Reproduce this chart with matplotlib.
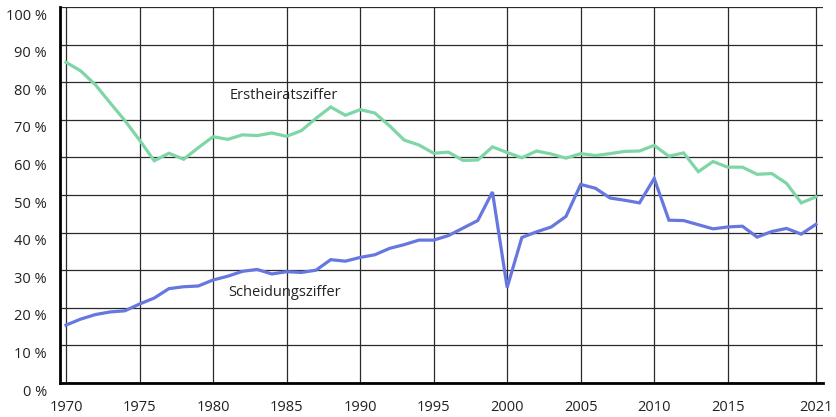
import numpy as np
import matplotlib
matplotlib.use("Agg")
from matplotlib import pyplot as plt
from matplotlib.transforms import ScaledTranslation

plt.rcParams["font.family"] = ["Open Sans", "DejaVu Sans"]

years = np.arange(1970, 2022)

# Erstheiratsziffer (%)
erstheirat = [85.3, 83.0, 79.3, 74.5, 69.8, 64.6, 59.1, 61.1, 59.5, 62.6,
              65.5, 64.8, 66.0, 65.8, 66.5, 65.6, 67.1, 70.4, 73.4, 71.2,
              72.7, 71.8, 68.4, 64.6, 63.3, 61.1, 61.4, 59.2, 59.3, 62.8,
              61.3, 59.9, 61.7, 60.9, 59.8, 61.0, 60.5, 61.0, 61.6, 61.7,
              63.2, 60.3, 61.2, 56.2, 58.9, 57.4, 57.4, 55.5, 55.7, 53.1,
              47.9, 49.5]

# Scheidungsziffer (%)
scheidung = [15.4, 17.0, 18.2, 18.9, 19.2, 21.0, 22.6, 25.1, 25.6, 25.8,
             27.4, 28.4, 29.7, 30.2, 29.0, 29.6, 29.4, 30.0, 32.8, 32.4,
             33.4, 34.1, 35.8, 36.8, 38.0, 38.0, 39.2, 41.2, 43.2, 50.8,
             25.4, 38.7, 40.2, 41.5, 44.3, 52.8, 51.8, 49.2, 48.6, 47.9,
             54.4, 43.3, 43.2, 42.1, 41.0, 41.5, 41.7, 38.8, 40.3, 41.1,
             39.6, 42.2]

x_ticks = [1970, 1975, 1980, 1985, 1990, 1995, 2000, 2005, 2010, 2015, 2021]
y_ticks = np.arange(0, 101, 10)

fig = plt.figure(figsize=(8.37, 4.17), dpi=100)
ax = fig.add_axes([60 / 837, 34 / 417, 763 / 837, 376 / 417])

ax.plot(years, erstheirat, color="#7ed6a6", lw=2.3, solid_joinstyle="miter")
ax.plot(years, scheidung, color="#6677e0", lw=2.3, solid_joinstyle="miter")

ax.set_xlim(1969.59, 2021.48)
ax.set_ylim(0, 100)
ax.set_xticks(x_ticks)
ax.set_yticks(y_ticks)
ax.set_yticklabels([f"{v} %" for v in y_ticks])
ax.grid(True, color="#2a2a2a", lw=0.9)
ax.set_axisbelow(True)
ax.tick_params(length=0, labelsize=10.5, colors="#222222")
ax.tick_params(axis="y", pad=9.5)
ax.tick_params(axis="x", pad=12.5)

# y labels sit a little below their gridline
off = ScaledTranslation(0, -7 / 100, fig.dpi_scale_trans)
for lab in ax.get_yticklabels():
    lab.set_transform(lab.get_transform() + off)

for side in ["top", "right"]:
    ax.spines[side].set_visible(False)
ax.spines["left"].set_linewidth(2)
ax.spines["bottom"].set_linewidth(2)

ax.text(1981.1, 76.4, "Erstheiratsziffer", fontsize=10.5, color="#222222",
        ha="left", va="center")
ax.text(1981.0, 24.1, "Scheidungsziffer", fontsize=10.5, color="#222222",
        ha="left", va="center")

fig.savefig("out.png", dpi=100)
